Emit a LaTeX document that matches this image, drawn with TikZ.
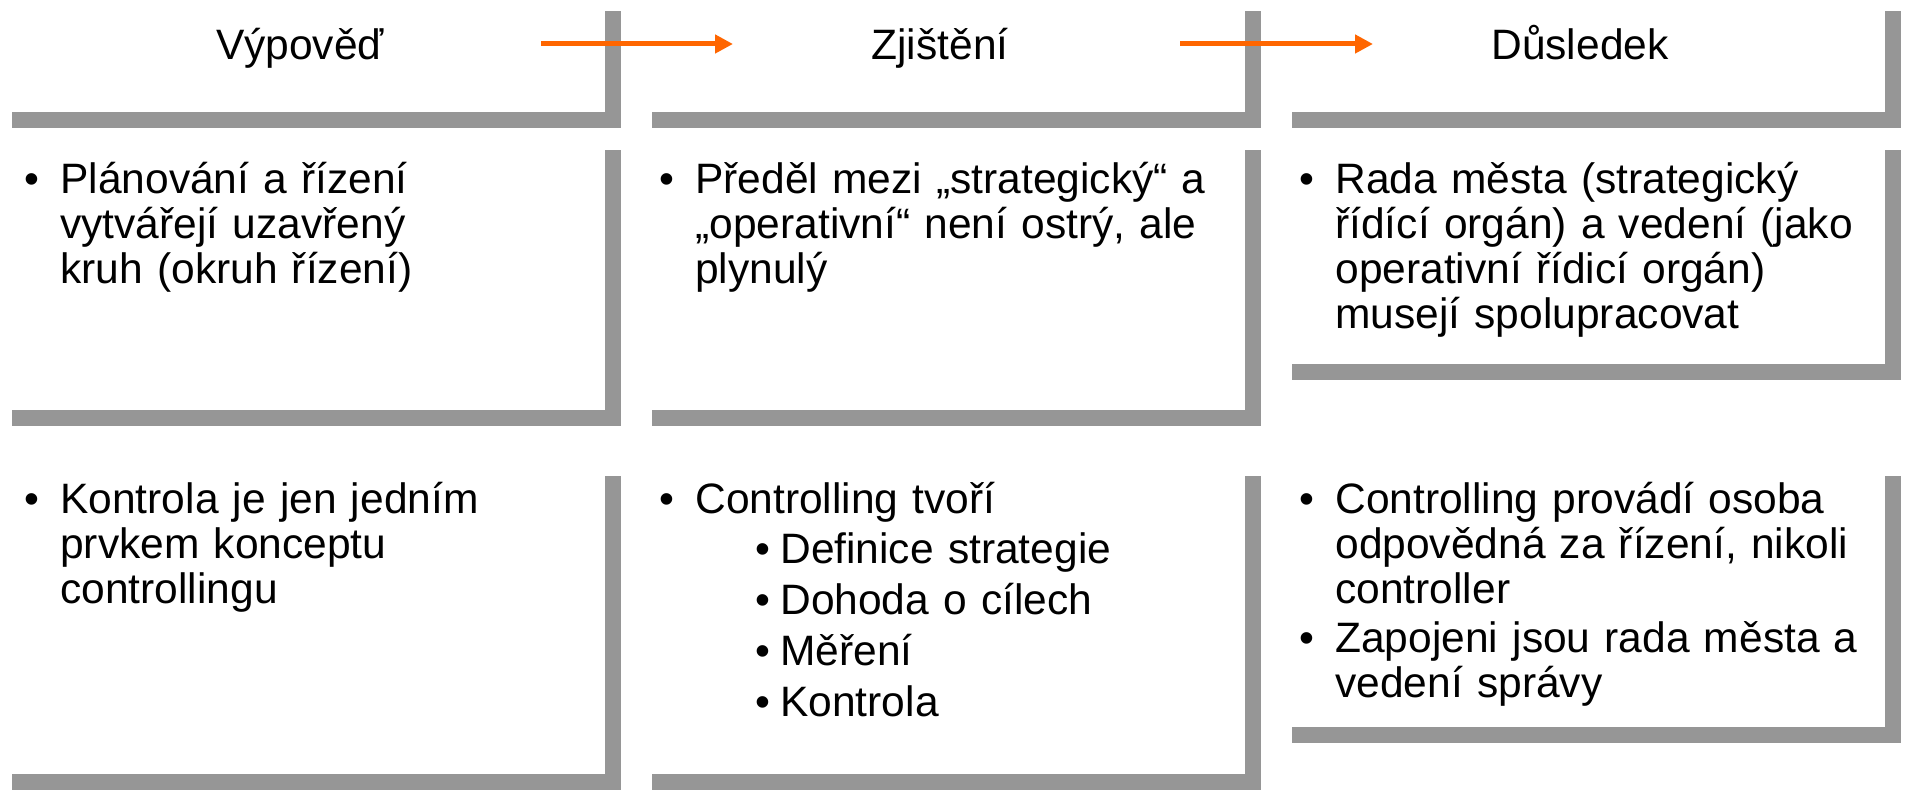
\documentclass[tikz,border=0pt]{standalone}
\usepackage{fontspec}
\setmainfont{Liberation Sans}
\usepackage{tikz}
\usetikzlibrary{arrows.meta,shadows}
\setlength{\parindent}{0pt}

\definecolor{shadowgray}{RGB}{150,150,150}
\definecolor{floworange}{RGB}{255,102,0}

\newcommand{\bul}{\leavevmode\llap{\textbullet\hspace{0.41cm}}}
\newcommand{\subbul}{\leavevmode\hspace*{1.7cm}\llap{\textbullet\hspace{0.19cm}}}

\tikzset{
  panel/.style={fill=white, inner sep=0pt, anchor=north west, minimum width=12.18cm,
    drop shadow={shadow xshift=0.32cm, shadow yshift=-0.32cm, fill=shadowgray, opacity=1}},
  head/.style={anchor=base, inner sep=0pt, font=\fontsize{24.2}{25.6}\selectfont},
  body/.style={anchor=base west, inner sep=0pt, text width=11.5cm, align=left,
    font=\fontsize{24.2}{25.6}\selectfont},
  flow/.style={draw=floworange, line width=0.1cm, -{Triangle[length=0.36cm,width=0.36cm]}}
}

\begin{document}
\begin{tikzpicture}[x=0.02cm, y=-0.02cm]
\useasboundingbox (0,0) rectangle (1908,790);

% header row
\node[panel, minimum height=2.34cm] (t1) at (-4,-5) {};
\node[panel, minimum height=2.34cm] (t2) at (636,-5) {};
\node[panel, minimum height=2.34cm] (t3) at (1276,-5) {};
\node[head] (hd1) at (300,60) {Výpověď};
\node[head] (hd2) at (940,60) {Zjištění};
\node[head] (hd3) at (1580,60) {Důsledek};

% first row
\node[panel, minimum height=5.52cm] (p11) at (-4,134) {};
\node[panel, minimum height=5.52cm] (p12) at (636,134) {};
\node[panel, minimum height=4.6cm] (p13) at (1276,134) {};
\node[body] (b11) at (60,194) {\bul Plánování a řízení\\ vytvářejí uzavřený\\ kruh (okruh řízení)};
\node[body] (b12) at (695,194) {\bul Předěl mezi „strategický“ a\\ „operativní“ není ostrý, ale\\ plynulý};
\node[body] (b13) at (1335,194) {\bul Rada města (strategický\\ řídící orgán) a vedení (jako\\ operativní řídicí orgán)\\ musejí spolupracovat};

% second row
\node[panel, minimum height=6.28cm] (p21) at (-4,460) {};
\node[panel, minimum height=6.28cm] (p22) at (636,460) {};
\node[panel, minimum height=5.34cm] (p23) at (1276,460) {};
\node[body] (b21) at (60,514) {\bul Kontrola je jen jedním\\ prvkem konceptu\\ controllingu};
\node[body] (b22) at (695,514) {\bul Controlling tvoří\\[0.1cm] \subbul Definice strategie\\[0.12cm]
  \subbul Dohoda o cílech\\[0.12cm] \subbul Měření\\[0.12cm] \subbul Kontrola};
\node[body] (b23) at (1335,514) {\bul Controlling provádí osoba\\ odpovědná za řízení, nikoli\\ controller\\[0.08cm]
  \bul Zapojeni jsou rada města a\\ vedení správy};

% arrows
\coordinate (a1) at (541,44);
\coordinate (a2) at (733,44);
\coordinate (a3) at (1180,44);
\coordinate (a4) at (1373,44);
\draw[flow] (a1) -- (a2);
\draw[flow] (a3) -- (a4);
\end{tikzpicture}
\end{document}
